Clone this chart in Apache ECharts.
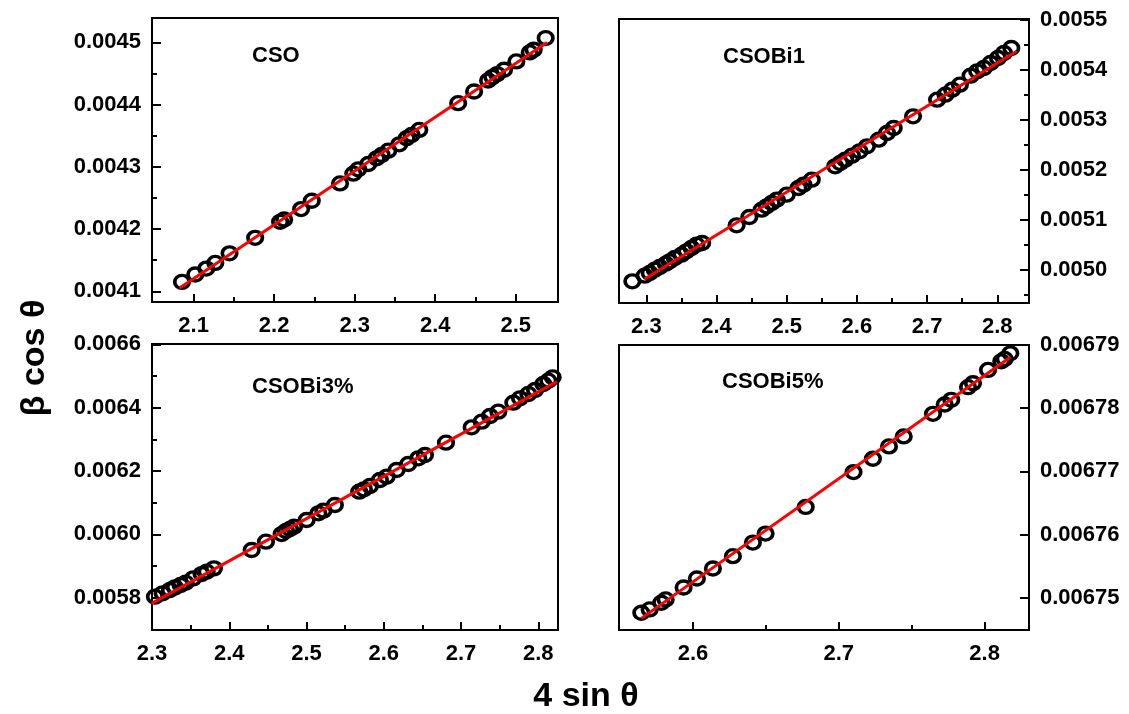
<!DOCTYPE html>
<html>
<head>
<meta charset="utf-8">
<script src="https://cdn.jsdelivr.net/npm/echarts@6/dist/echarts.min.js"></script>
<style>html,body{margin:0;padding:0;background:#fff;}#c{width:1129px;height:714px;}</style>
</head>
<body>
<div id="c"></div>
<script>
// ---------- data ----------
const panelNames = ['CSO', 'CSOBi1', 'CSOBi3%', 'CSOBi5%'];

const cso_x = [2.0855, 2.102, 2.1157, 2.1269, 2.1446, 2.1764, 2.2074, 2.2124, 2.2335, 2.2467, 2.2818, 2.2983, 2.3045, 2.3169, 2.3273, 2.3335, 2.3417, 2.3554, 2.3645, 2.3707, 2.3802, 2.4285, 2.4483, 2.4657, 2.471, 2.4769, 2.4855, 2.5008, 2.5174, 2.5223, 2.5372];
const cso_y = [0.004115, 0.004127, 0.0041365, 0.0041456, 0.004161, 0.0041859, 0.0042117, 0.0042154, 0.0042321, 0.0042455, 0.0042734, 0.004289, 0.004296, 0.0043046, 0.0043137, 0.004319, 0.004326, 0.0043362, 0.004346, 0.0043513, 0.0043593, 0.0044023, 0.0044211, 0.0044388, 0.0044442, 0.004449, 0.004456, 0.0044694, 0.0044839, 0.0044882, 0.004507];
const cso_fit_x = [2.0826, 2.5388];
const cso_fit_y = [0.0041054, 0.0045];

const bi1_x = [2.28, 2.2976, 2.3048, 2.3119, 2.319, 2.3276, 2.3333, 2.3405, 2.35, 2.3571, 2.3643, 2.3714, 2.3795, 2.4286, 2.4467, 2.4643, 2.4714, 2.4786, 2.4857, 2.5, 2.5167, 2.5238, 2.5357, 2.569, 2.5762, 2.5833, 2.5929, 2.6038, 2.6143, 2.631, 2.6429, 2.6524, 2.68, 2.7143, 2.7262, 2.7357, 2.7467, 2.7619, 2.7714, 2.781, 2.7905, 2.801, 2.8095, 2.82];
const bi1_y = [0.0049767, 0.004988, 0.0049933, 0.0050, 0.0050053, 0.005012, 0.0050167, 0.0050233, 0.00503, 0.0050367, 0.0050433, 0.00505, 0.0050533, 0.0050887, 0.0051053, 0.00512, 0.0051267, 0.0051333, 0.00514, 0.00515, 0.0051633, 0.00517, 0.00518, 0.0052067, 0.0052133, 0.00522, 0.005228, 0.0052367, 0.0052467, 0.00526, 0.0052733, 0.0052833, 0.0053067, 0.00534, 0.00535, 0.00536, 0.00537, 0.005388, 0.0053967, 0.0054033, 0.0054133, 0.0054233, 0.0054333, 0.0054433];
const bi1_fit_x = [2.2976, 2.8276];
const bi1_fit_y = [0.0049813, 0.0054367];

const bi3_x = [2.3038, 2.3137, 2.3232, 2.3297, 2.337, 2.3435, 2.3534, 2.3642, 2.3707, 2.3802, 2.429, 2.4475, 2.4678, 2.4734, 2.4786, 2.4838, 2.5002, 2.5153, 2.5218, 2.5367, 2.5682, 2.5743, 2.5821, 2.595, 2.6037, 2.6166, 2.6317, 2.6447, 2.6533, 2.6805, 2.7137, 2.7267, 2.7375, 2.7483, 2.7677, 2.7763, 2.7871, 2.7958, 2.8065, 2.813, 2.8186];
const bi3_y = [0.0058032, 0.0058137, 0.0058242, 0.0058326, 0.00584, 0.0058474, 0.005861, 0.0058747, 0.0058821, 0.0058926, 0.0059505, 0.0059768, 0.006001, 0.0060105, 0.0060168, 0.0060242, 0.0060453, 0.0060663, 0.0060747, 0.0060926, 0.0061347, 0.0061421, 0.0061526, 0.0061716, 0.0061821, 0.0062032, 0.0062221, 0.00624, 0.0062505, 0.0062895, 0.0063379, 0.0063558, 0.0063737, 0.0063874, 0.0064158, 0.0064295, 0.0064432, 0.0064558, 0.0064747, 0.0064853, 0.0064958];
const bi3_fit_x = [2.2995, 2.8241];
const bi3_fit_y = [0.0057821, 0.0064821];

const bi5_x = [2.5646, 2.5703, 2.5783, 2.5813, 2.5936, 2.6027, 2.6137, 2.6274, 2.6411, 2.6498, 2.6773, 2.7101, 2.7234, 2.7344, 2.7445, 2.7646, 2.7726, 2.7771, 2.7886, 2.792, 2.8023, 2.8114, 2.8137, 2.8176];
const bi5_y = [0.00674763, 0.00674816, 0.00674921, 0.00674974, 0.00675163, 0.00675305, 0.00675463, 0.00675658, 0.00675874, 0.00676016, 0.00676437, 0.00676989, 0.0067720, 0.00677395, 0.00677553, 0.00677911, 0.00678058, 0.00678132, 0.00678332, 0.00678395, 0.00678605, 0.00678742, 0.00678779, 0.00678868];
const bi5_fit_x = [2.5646, 2.8176];
const bi5_fit_y = [0.00674674, 0.00678805];

// tick values
const cso_xticks = [2.1, 2.2, 2.3, 2.4, 2.5];
const cso_xminor = [2.15, 2.25, 2.35, 2.45];
const cso_yticks = [0.0041, 0.0042, 0.0043, 0.0044, 0.0045];
const cso_yminor = [0.00415, 0.00425, 0.00435, 0.00445];

const bi1_xticks = [2.3, 2.4, 2.5, 2.6, 2.7, 2.8];
const bi1_xminor = [2.35, 2.45, 2.55, 2.65, 2.75];
const bi1_yticks = [0.0050, 0.0051, 0.0052, 0.0053, 0.0054, 0.0055];
const bi1_yminor = [0.00495, 0.00505, 0.00515, 0.00525, 0.00535, 0.00545];

const bi3_xticks = [2.3, 2.4, 2.5, 2.6, 2.7, 2.8];
const bi3_xminor = [2.35, 2.45, 2.55, 2.65, 2.75];
const bi3_yticks = [0.0058, 0.0060, 0.0062, 0.0064, 0.0066];
const bi3_yminor = [0.0059, 0.0061, 0.0063, 0.0065];

const bi5_xticks = [2.6, 2.7, 2.8];
const bi5_xminor = [2.65, 2.75];
const bi5_yticks = [0.00675, 0.00676, 0.00677, 0.00678, 0.00679];
const bi5_yminor = [];

// ---------- layout ----------
const panels = [
  {name: panelNames[0], xs: cso_x, ys: cso_y, fx: cso_fit_x, fy: cso_fit_y,
   xr: [2.0483, 2.5525], yr: [0.0040828, 0.0045392], xt: cso_xticks, xm: cso_xminor, yt: cso_yticks, ym: cso_yminor,
   grid: {left: 152, top: 18, width: 406, height: 284}, ypos: 'left', dec: 4, title: [252, 56]},
  {name: panelNames[1], xs: bi1_x, ys: bi1_y, fx: bi1_fit_x, fy: bi1_fit_y,
   xr: [2.261, 2.8452], yr: [0.0049333, 0.0055013], xt: bi1_xticks, xm: bi1_xminor, yt: bi1_yticks, ym: bi1_yminor,
   grid: {left: 619, top: 19, width: 410, height: 284}, ypos: 'right', dec: 4, title: [723, 57]},
  {name: panelNames[2], xs: bi3_x, ys: bi3_y, fx: bi3_fit_x, fy: bi3_fit_y,
   xr: [2.3, 2.8255], yr: [0.005698, 0.006601], xt: bi3_xticks, xm: bi3_xminor, yt: bi3_yticks, ym: bi3_yminor,
   grid: {left: 152, top: 344, width: 406, height: 286}, ypos: 'left', dec: 4, title: [252, 387]},
  {name: panelNames[3], xs: bi5_x, ys: bi5_y, fx: bi5_fit_x, fy: bi5_fit_y,
   xr: [2.5493, 2.8304], yr: [0.0067449, 0.00679], xt: bi5_xticks, xm: bi5_xminor, yt: bi5_yticks, ym: bi5_yminor,
   grid: {left: 619, top: 345, width: 410, height: 285}, ypos: 'right', dec: 5, title: [722, 382]}
];

const FONT = '"Liberation Sans", Arial, sans-serif';
const grids = [], xAxes = [], yAxes = [], series = [], graphics = [];

panels.forEach((p, i) => {
  grids.push(Object.assign({show: true, borderColor: '#000', borderWidth: 2, backgroundColor: 'transparent'}, p.grid));
  const lbl = {color: '#000', fontWeight: 'bold', fontSize: 22, fontFamily: FONT};
  // major x
  xAxes.push({type: 'value', gridIndex: i, position: 'bottom', min: p.xr[0], max: p.xr[1],
    axisLine: {show: true, onZero: false, lineStyle: {color: '#000', width: 2}},
    axisTick: {show: true, inside: true, length: 8, lineStyle: {color: '#000', width: 2}, customValues: p.xt},
    axisLabel: Object.assign({show: true, margin: 13, customValues: p.xt, formatter: v => v.toFixed(1)}, lbl),
    splitLine: {show: false}});
  // minor x
  xAxes.push({type: 'value', gridIndex: i, position: 'bottom', min: p.xr[0], max: p.xr[1],
    axisLine: {show: false, onZero: false},
    axisTick: {show: true, inside: true, length: 5, lineStyle: {color: '#000', width: 2}, customValues: p.xm},
    axisLabel: {show: false}, splitLine: {show: false}});
  // major y
  yAxes.push({type: 'value', gridIndex: i, position: p.ypos, min: p.yr[0], max: p.yr[1],
    axisLine: {show: true, onZero: false, lineStyle: {color: '#000', width: 2}},
    axisTick: {show: true, inside: true, length: 9, lineStyle: {color: '#000', width: 2}, customValues: p.yt},
    axisLabel: Object.assign({show: true, margin: 11, customValues: p.yt, formatter: v => v.toFixed(p.dec)}, lbl),
    splitLine: {show: false}});
  // minor y
  yAxes.push({type: 'value', gridIndex: i, position: p.ypos, min: p.yr[0], max: p.yr[1],
    axisLine: {show: false, onZero: false},
    axisTick: {show: p.ym.length > 0, inside: true, length: 5, lineStyle: {color: '#000', width: 2}, customValues: p.ym.length ? p.ym : [p.yr[0]]},
    axisLabel: {show: false}, splitLine: {show: false}});

  series.push({type: 'scatter', xAxisIndex: i * 2, yAxisIndex: i * 2, z: 2,
    data: p.xs.map((x, k) => [x, p.ys[k]]),
    symbol: 'circle', symbolSize: [14.5, 13],
    itemStyle: {color: 'rgba(255,255,255,0)', borderColor: '#000', borderWidth: 3.5, opacity: 1}});
  series.push({type: 'line', xAxisIndex: i * 2, yAxisIndex: i * 2, z: 3,
    data: p.fx.map((x, k) => [x, p.fy[k]]),
    showSymbol: false, symbol: 'none', lineStyle: {color: '#ff0000', width: 3}});

  graphics.push({type: 'text', x: p.title[0], y: p.title[1],
    style: {text: p.name, fill: '#000', font: 'bold 22px ' + FONT, align: 'left', verticalAlign: 'middle'}});
});

graphics.push({type: 'text', x: 35, y: 358, rotation: Math.PI / 2,
  style: {text: 'β cos θ', fill: '#000', font: 'bold 34px ' + FONT, align: 'center', verticalAlign: 'middle'}});
graphics.push({type: 'text', x: 586, y: 697,
  style: {text: '4 sin θ', fill: '#000', font: 'bold 34px ' + FONT, align: 'center', verticalAlign: 'middle'}});

const chart = echarts.init(document.getElementById('c'), null, {renderer: 'canvas'});
chart.setOption({
  animation: false,
  backgroundColor: '#fff',
  grid: grids,
  xAxis: xAxes,
  yAxis: yAxes,
  series: series,
  graphic: graphics
});
</script>
</body>
</html>
